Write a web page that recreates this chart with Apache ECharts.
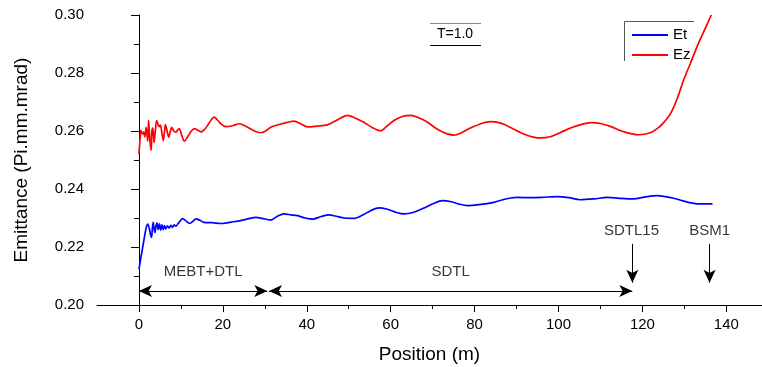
<!DOCTYPE html>
<html>
<head>
<meta charset="utf-8">
<script src="https://cdn.jsdelivr.net/npm/echarts@6/dist/echarts.min.js"></script>
<style>html,body{margin:0;padding:0;background:#fff}#c{width:762px;height:367px}</style>
</head>
<body>
<div id="c"></div>
<script>
// ---- data ----
const ezPos = [0,0.3,0.5,0.8,1.1,1.4,1.7,2.1,2.3,2.6,2.9,3.1,3.3,3.6,3.9,4.2,4.5,4.8,5.1,5.5,5.8,6.1,6.3,6.7,7.1,7.5,7.8,8.3,8.8,9.2,9.6,10.2,10.8,11.6,12.4,13.2,14.0,14.8,15.6,16.4,17.2,17.9,18.7,19.5,20.7,22.3,23.9,25.0,25.9,27.5,29.0,30.2,31.4,32.8,34.6,36.0,37.0,38.5,40.2,42.5,44.9,47.5,49.7,51.5,53.6,55.6,57.6,59.2,60.8,62.8,64.8,66.8,68.7,70.3,71.9,73.5,75.1,77.0,79.0,81.5,83.8,85.5,87.0,89.5,92.0,94.0,95.7,98.0,100.5,103.0,105.5,107.8,110.0,112.5,115.0,117.5,119.3,121.9,123.5,125.0,126.7,128.3,129.8,131.4,133.0,134.7,136.4];
const ezVal = [0.2520,0.2580,0.2602,0.2590,0.2596,0.2580,0.2613,0.2565,0.2637,0.2570,0.2533,0.2600,0.2610,0.2560,0.2600,0.2636,0.2625,0.2615,0.2620,0.2590,0.2567,0.2600,0.2622,0.2600,0.2579,0.2600,0.2613,0.2600,0.2596,0.2603,0.2608,0.2585,0.2565,0.2580,0.2598,0.2608,0.2603,0.2597,0.2605,0.2620,0.2638,0.2648,0.2638,0.2625,0.2615,0.2618,0.2625,0.2620,0.2613,0.2600,0.2594,0.2600,0.2613,0.2620,0.2627,0.2632,0.2634,0.2625,0.2614,0.2617,0.2621,0.2640,0.2654,0.2645,0.2630,0.2612,0.2601,0.2618,0.2636,0.2650,0.2654,0.2645,0.2631,0.2614,0.2600,0.2590,0.2586,0.2595,0.2610,0.2625,0.2632,0.2630,0.2623,0.2605,0.2588,0.2579,0.2576,0.2580,0.2595,0.2611,0.2623,0.2629,0.2626,0.2615,0.2600,0.2590,0.2587,0.2594,0.2608,0.2628,0.2660,0.2712,0.2775,0.2832,0.2890,0.2945,0.3000];

const etPos = [0,0.6,1.2,1.7,2.1,2.5,2.8,3.0,3.2,3.4,3.6,3.8,4.1,4.3,4.6,4.9,5.2,5.5,5.8,6.1,6.4,6.8,7.2,7.6,8.0,8.4,8.8,9.3,9.8,10.4,11.2,12.0,12.8,13.6,14.5,15.5,17.5,19.5,22.0,24.3,26.0,27.9,29.3,31.4,33.0,34.6,36.2,37.8,39.6,41.4,43.4,45.3,47.0,49.0,51.3,53.3,55.3,57.2,59.2,61.2,63.2,65.5,68.0,70.2,72.3,74.5,76.3,78.3,81.0,84.6,86.5,88.6,90.2,93.0,96.0,99.7,102.5,105.2,108.5,111.6,114.5,117.9,120.5,123.5,125.5,127.5,129.5,131.2,133.0,136.7];
const etVal = [0.2124,0.2175,0.2225,0.2265,0.2279,0.2262,0.2240,0.2233,0.2265,0.2285,0.2265,0.2250,0.2275,0.2283,0.2260,0.2280,0.2258,0.2276,0.2260,0.2274,0.2262,0.2273,0.2265,0.2275,0.2268,0.2276,0.2272,0.2280,0.2289,0.2298,0.2290,0.2281,0.2288,0.2297,0.2292,0.2285,0.2284,0.2281,0.2286,0.2291,0.2297,0.2302,0.2299,0.2293,0.2306,0.2314,0.2311,0.2308,0.2300,0.2296,0.2305,0.2311,0.2306,0.2300,0.2299,0.2310,0.2326,0.2335,0.2330,0.2320,0.2314,0.2320,0.2335,0.2350,0.2360,0.2356,0.2348,0.2343,0.2346,0.2354,0.2362,0.2369,0.2371,0.2370,0.2371,0.2374,0.2370,0.2363,0.2366,0.2371,0.2368,0.2366,0.2372,0.2377,0.2374,0.2368,0.2360,0.2353,0.2349,0.2349];

const xTickLabels = [0,20,40,60,80,100,120,140];
const xMinorTicks = [10,30,50,70,90,110,130];

// annotations
const annoText = ['MEBT+DTL','SDTL','SDTL15','BSM1'];
const annoX = [15.3, 74.3, 117.4, 136.0];
const annoY = [0.2114, 0.2114, 0.2256, 0.2256];
const spanStart = [0, 31];
const spanEnd = [30.6, 117.6];
const spanY = 0.2048;
const markerX = [117.6, 136.0];
const markerTop = 0.2211;
const markerBottom = 0.2077;

const FONT = 'Liberation Sans, Arial, sans-serif';

const zip = (a, b) => a.map((v, i) => [v, b[i]]);

const markLines = [];
spanStart.forEach((s, i) => {
  markLines.push([{coord: [s, spanY], symbol: 'arrow'}, {coord: [spanEnd[i], spanY], symbol: 'arrow'}]);
});
markerX.forEach(x => {
  markLines.push([{coord: [x, markerTop], symbol: 'none'}, {coord: [x, markerBottom], symbol: 'arrow'}]);
});

const chart = echarts.init(document.getElementById('c'), null, {renderer: 'canvas'});
chart.setOption({
  animation: false,
  backgroundColor: '#fff',
  grid: {left: 97, right: 0, top: 15, bottom: 62, containLabel: false, outerBoundsMode: 'none'},
  legend: {
    data: ['Et', 'Ez'],
    orient: 'vertical',
    left: 632, top: 25, padding: 0,
    icon: 'rect',
    itemWidth: 36, itemHeight: 2, itemGap: 0,
    textStyle: {fontFamily: FONT, fontSize: 15, color: '#000', lineHeight: 20}
  },
  xAxis: [{
    type: 'value', min: -10, max: 148.5,
    name: 'Position (m)', nameLocation: 'middle', nameGap: 40,
    nameTextStyle: {fontFamily: FONT, fontSize: 19, color: '#000'},
    axisLine: {lineStyle: {color: '#000', width: 1}},
    axisTick: {show: true, customValues: xTickLabels, length: 7, lineStyle: {color: '#000'}},
    axisLabel: {customValues: xTickLabels, fontFamily: FONT, fontSize: 15, color: '#000', margin: 12},
    splitLine: {show: false}
  }, {
    type: 'value', min: -10, max: 148.5, position: 'bottom',
    axisLine: {show: false},
    axisTick: {show: true, customValues: xMinorTicks, length: 4, lineStyle: {color: '#000'}},
    axisLabel: {show: false},
    splitLine: {show: false}
  }],
  yAxis: {
    type: 'value', min: 0.20, max: 0.30, interval: 0.02,
    name: 'Emittance (Pi.mm.mrad)', nameLocation: 'middle', nameGap: 66,
    nameTextStyle: {fontFamily: FONT, fontSize: 19, color: '#000'},
    axisLine: {show: true, lineStyle: {color: '#000', width: 1}},
    axisTick: {show: true, length: 8, lineStyle: {color: '#000'}},
    minorTick: {show: true, splitNumber: 2, length: 5, lineStyle: {color: '#000'}},
    axisLabel: {fontFamily: FONT, fontSize: 15, color: '#000', margin: 13, formatter: v => v.toFixed(2)},
    splitLine: {show: false}
  },
  series: [{
    name: 'Et', type: 'line', data: zip(etPos, etVal),
    showSymbol: false, symbol: 'none', smooth: 0.3,
    lineStyle: {color: '#0000ff', width: 1.7}, itemStyle: {color: '#0000ff'}
  }, {
    name: 'Ez', type: 'line', data: zip(ezPos, ezVal),
    showSymbol: false, symbol: 'none', smooth: 0.3,
    lineStyle: {color: '#ff0000', width: 1.7}, itemStyle: {color: '#ff0000'}
  }, {
    name: 'annotations', type: 'scatter', symbolSize: 0,
    data: annoText.map((t, i) => ({name: t, value: [annoX[i], annoY[i]]})),
    label: {show: true, position: 'inside', formatter: p => p.name,
      fontFamily: FONT, fontSize: 15, color: '#000'},
    markLine: {
      silent: true, symbolSize: [9, 13],
      label: {show: false},
      lineStyle: {color: '#000', width: 1, type: 'solid'},
      data: markLines
    },
    tooltip: {show: false}
  }],
  graphic: [
    {type: 'line', shape: {x1: 624.5, y1: 21.5, x2: 694, y2: 21.5}, style: {stroke: '#555', lineWidth: 1}},
    {type: 'line', shape: {x1: 624.5, y1: 21.5, x2: 624.5, y2: 61}, style: {stroke: '#555', lineWidth: 1}},
    {type: 'line', shape: {x1: 430, y1: 23.5, x2: 481, y2: 23.5}, style: {stroke: '#888', lineWidth: 1}},
    {type: 'line', shape: {x1: 430, y1: 45.5, x2: 481, y2: 45.5}, style: {stroke: '#000', lineWidth: 1}},
    {type: 'text', x: 455, y: 34, style: {text: 'T=1.0', font: '14px ' + FONT, fill: '#000', align: 'center', verticalAlign: 'middle'}}
  ]
});
</script>
</body>
</html>
